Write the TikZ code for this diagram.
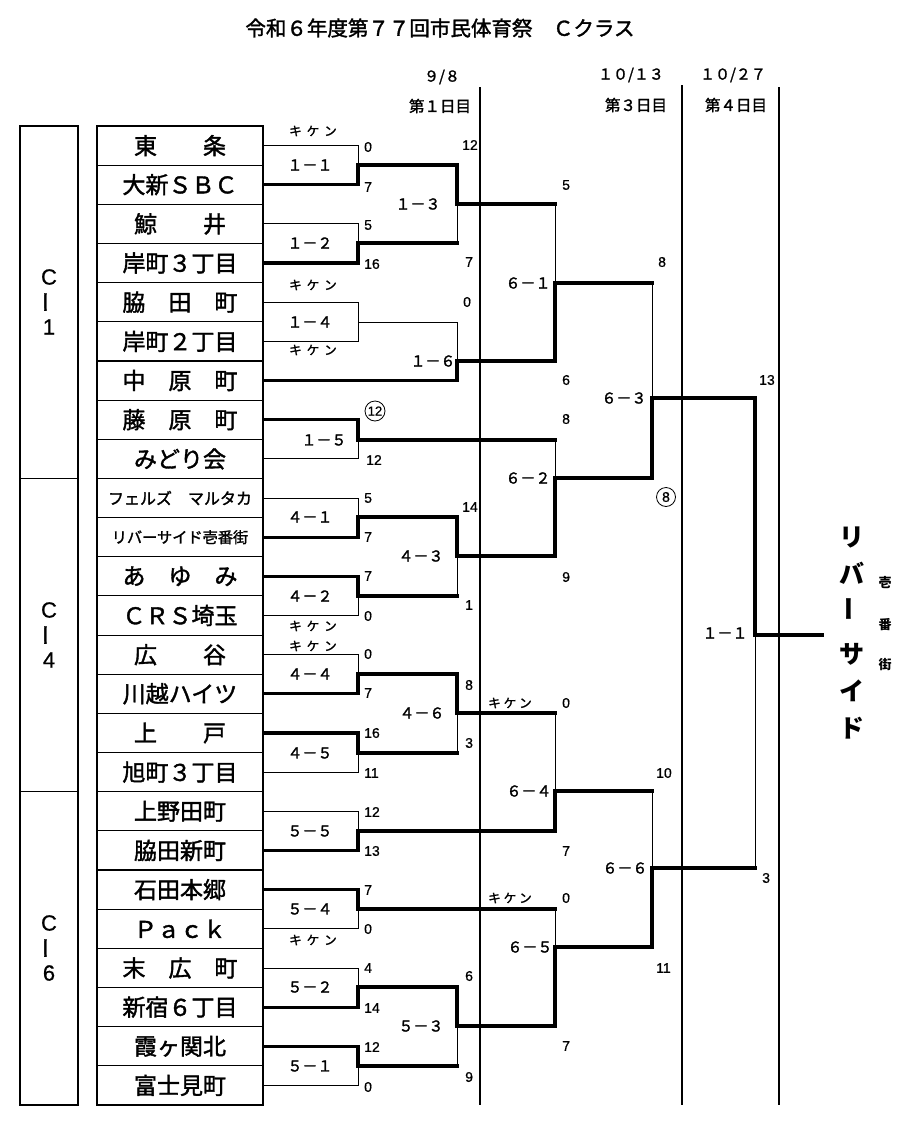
\documentclass[tikz,border=0pt]{standalone}
\usepackage{fontspec}
\setmainfont{Noto Sans CJK JP}
\newfontfamily\med{Noto Sans CJK JP}[FakeBold=1.6]
\newfontfamily\arial{Liberation Sans}[FakeBold=0.8]
\begin{document}
\begin{tikzpicture}[x=1pt,y=-1pt,
  thinl/.style={line width=0.9pt},
  thickl/.style={line width=3.2pt,line cap=rect},
  dayl/.style={line width=1.6pt},
  boxl/.style={line width=1.1pt},
  team/.style={draw,boxl,minimum width=166pt,minimum height=39.16pt,inner sep=0pt,font=\med\fontsize{23}{23}\selectfont},
  mlab/.style={font=\med\fontsize{15}{15}\selectfont,inner sep=0pt},
  sc/.style={font=\arial\fontsize{14}{14}\selectfont,inner sep=0pt,anchor=west},
  kk/.style={font=\med\fontsize{12.5}{12.5}\selectfont,inner sep=0pt},
  clab/.style={font=\arial\fontsize{22}{22}\selectfont,inner sep=0pt},
  hdr/.style={font=\med\fontsize{15}{15}\selectfont,inner sep=0pt},
  hdrd/.style={font=\med\fontsize{15.5}{15.5}\selectfont,inner sep=0pt},
  win/.style={font=\bfseries\fontsize{25}{25}\selectfont,inner sep=0pt},
  wins/.style={font=\bfseries\fontsize{13}{13}\selectfont,inner sep=0pt},
  ring/.style={draw,circle,line width=0.8pt,minimum size=20pt,inner sep=0pt}
]
\fill[white] (0,0) rectangle (900,1122);
\useasboundingbox (0,0) rectangle (900,1122);

% title and headers
\node[font=\med\fontsize{20.5}{20.5}\selectfont,inner sep=0pt] (title) at (440,28) {令和６年度第７７回市民体育祭　Ｃクラス};
\node[hdr] (d1) at (442,77) {９/８};
\node[hdrd] (d1b) at (440,106) {第１日目};
\node[hdr] (d3) at (631,75) {１０/１３};
\node[hdrd] (d3b) at (636,105) {第３日目};
\node[hdr] (d4) at (733,75) {１０/２７};
\node[hdrd] (d4b) at (736,105) {第４日目};

% day lines
\draw[dayl] (480,87) -- (480,1105);
\draw[dayl] (682,85) -- (682,1105);
\draw[dayl] (779,87) -- (779,1105);

% class blocks
\draw[boxl] (20,126) rectangle (78,478.4);
\draw[boxl] (20,478.4) rectangle (78,791.7);
\draw[boxl] (20,791.7) rectangle (78,1105);
\node[clab] (c1a) at (49,277) {C};
\node[clab,rotate=90,font=\med\fontsize{22}{22}\selectfont] (c1b) at (49,302) {ー};
\node[clab] (c1c) at (49,327) {1};
\node[clab] (c4a) at (49,610) {C};
\node[clab,rotate=90,font=\med\fontsize{22}{22}\selectfont] (c4b) at (49,635) {ー};
\node[clab] (c4c) at (49,660) {4};
\node[clab] (c6a) at (49,923) {C};
\node[clab,rotate=90,font=\med\fontsize{22}{22}\selectfont] (c6b) at (49,948) {ー};
\node[clab] (c6c) at (49,973) {6};

% teams
\node[team] (t0) at (180,145.6) {東　　条};
\node[team] (t1) at (180,184.7) {大新ＳＢＣ};
\node[team] (t2) at (180,223.9) {鯨　　井};
\node[team] (t3) at (180,263.0) {岸町３丁目};
\node[team] (t4) at (180,302.2) {脇　田　町};
\node[team] (t5) at (180,341.4) {岸町２丁目};
\node[team] (t6) at (180,380.5) {中　原　町};
\node[team] (t7) at (180,419.7) {藤　原　町};
\node[team] (t8) at (180,458.9) {みどり会};
\node[team,font=\med\fontsize{16}{16}\selectfont] (t9) at (180,498.0) {フェルズ　マルタカ};
\node[team,font=\med\fontsize{15.2}{15.2}\selectfont] (t10) at (180,537.2) {リバーサイド壱番街};
\node[team] (t11) at (180,576.3) {あ　ゆ　み};
\node[team] (t12) at (180,615.5) {ＣＲＳ埼玉};
\node[team] (t13) at (180,654.7) {広　　谷};
\node[team] (t14) at (180,693.8) {川越ハイツ};
\node[team] (t15) at (180,733.0) {上　　戸};
\node[team] (t16) at (180,772.2) {旭町３丁目};
\node[team] (t17) at (180,811.3) {上野田町};
\node[team] (t18) at (180,850.5) {脇田新町};
\node[team] (t19) at (180,889.6) {石田本郷};
\node[team] (t20) at (180,928.8) {Ｐａｃｋ};
\node[team] (t21) at (180,968.0) {末　広　町};
\node[team] (t22) at (180,1007.1) {新宿６丁目};
\node[team] (t23) at (180,1046.3) {霞ヶ関北};
\node[team] (t24) at (180,1085.4) {富士見町};

% junctions
\coordinate (m11) at (358,165);
\coordinate (m12) at (358,243);
\coordinate (m14) at (358,322);
\coordinate (m15) at (358,440);
\coordinate (m41) at (358,517);
\coordinate (m42) at (358,596);
\coordinate (m44) at (358,674);
\coordinate (m45) at (358,753);
\coordinate (m55) at (358,831);
\coordinate (m54) at (358,909);
\coordinate (m52) at (358,987);
\coordinate (m51) at (358,1066);
\coordinate (m13) at (457,204);
\coordinate (m16) at (457,361);
\coordinate (m43) at (457,556);
\coordinate (m46) at (457,713);
\coordinate (m53) at (457,1026);
\coordinate (m61) at (555,283);
\coordinate (m62) at (555,478);
\coordinate (m64) at (555,791);
\coordinate (m65) at (555,947);
\coordinate (m63) at (652,398);
\coordinate (m66) at (652,868);
\coordinate (mf) at (755,635);
\coordinate (fend) at (822,635);

% round 1 (block C-1)
\draw[thinl] (t0.east) -| (m11);
\draw[thickl] (t1.east) -| (m11) -- (m11 -| m13);
\draw[thinl] (t2.east) -| (m12);
\draw[thickl] (t3.east) -| (m12) -- (m12 -| m13);
\draw[thinl] (t4.east) -| (m14);
\draw[thinl] (t5.east) -| (m14) -- (m14 -| m16);
\draw[thickl] (t6.east) -| (m16) -- (m16 -| m61);
\draw[thinl] (m14 -| m16) -- (m16);
\draw[thickl] (t7.east) -| (m15) -- (m15 -| m62);
\draw[thinl] (t8.east) -| (m15);
\draw[thickl] (m11 -| m13) -- (m13) -- (m13 -| m61);
\draw[thinl] (m12 -| m13) -- (m13);
% block C-4
\draw[thinl] (t9.east) -| (m41);
\draw[thickl] (t10.east) -| (m41) -- (m41 -| m43);
\draw[thickl] (t11.east) -| (m42) -- (m42 -| m43);
\draw[thinl] (t12.east) -| (m42);
\draw[thickl] (m41 -| m43) -- (m43) -- (m43 -| m62);
\draw[thinl] (m42 -| m43) -- (m43);
\draw[thinl] (t13.east) -| (m44);
\draw[thickl] (t14.east) -| (m44) -- (m44 -| m46);
\draw[thickl] (t15.east) -| (m45) -- (m45 -| m46);
\draw[thinl] (t16.east) -| (m45);
\draw[thickl] (m44 -| m46) -- (m46) -- (m46 -| m64);
\draw[thinl] (m45 -| m46) -- (m46);
% block C-6
\draw[thinl] (t17.east) -| (m55);
\draw[thickl] (t18.east) -| (m55) -- (m55 -| m64);
\draw[thickl] (t19.east) -| (m54) -- (m54 -| m65);
\draw[thinl] (t20.east) -| (m54);
\draw[thinl] (t21.east) -| (m52);
\draw[thickl] (t22.east) -| (m52) -- (m52 -| m53);
\draw[thickl] (t23.east) -| (m51) -- (m51 -| m53);
\draw[thinl] (t24.east) -| (m51);
\draw[thickl] (m52 -| m53) -- (m53) -- (m53 -| m65);
\draw[thinl] (m51 -| m53) -- (m53);
% third day
\draw[thickl] (m16 -| m61) -- (m61) -- (m61 -| m63);
\draw[thinl] (m13 -| m61) -- (m61);
\draw[thickl] (m43 -| m62) -- (m62) -- (m62 -| m63);
\draw[thinl] (m15 -| m62) -- (m62);
\draw[thickl] (m55 -| m64) -- (m64) -- (m64 -| m66);
\draw[thinl] (m46 -| m64) -- (m64);
\draw[thickl] (m53 -| m65) -- (m65) -- (m65 -| m66);
\draw[thinl] (m54 -| m65) -- (m65);
\draw[thickl] (m62 -| m63) -- (m63) -- (m63 -| mf);
\draw[thinl] (m61 -| m63) -- (m63);
\draw[thickl] (m65 -| m66) -- (m66) -- (m66 -| mf);
\draw[thinl] (m64 -| m66) -- (m66);
% final
\draw[thickl] (m63 -| mf) -- (mf) -- (fend);
\draw[thinl] (m66 -| mf) -- (mf);

% match labels
\node[mlab] (l11) at (310,165) {１－１};
\node[mlab] (l12) at (310,243) {１－２};
\node[mlab] (l14) at (310,322) {１－４};
\node[mlab] (l15) at (324,440) {１－５};
\node[mlab] (l41) at (310,517) {４－１};
\node[mlab] (l42) at (310,596) {４－２};
\node[mlab] (l44) at (310,674) {４－４};
\node[mlab] (l45) at (310,753) {４－５};
\node[mlab] (l55) at (310,831) {５－５};
\node[mlab] (l54) at (310,909) {５－４};
\node[mlab] (l52) at (310,987) {５－２};
\node[mlab] (l51) at (310,1066) {５－１};
\node[mlab] (l13) at (418,204) {１－３};
\node[mlab] (l16) at (433,361) {１－６};
\node[mlab] (l43) at (421,556) {４－３};
\node[mlab] (l46) at (422,713) {４－６};
\node[mlab] (l53) at (421,1026) {５－３};
\node[mlab] (l61) at (528,283) {６－１};
\node[mlab] (l62) at (528,478) {６－２};
\node[mlab] (l64) at (529,791) {６－４};
\node[mlab] (l65) at (530,947) {６－５};
\node[mlab] (l63) at (624,398) {６－３};
\node[mlab] (l66) at (625,868) {６－６};
\node[mlab] (lf) at (725,633) {１－１};

% kiken labels
\node[kk] (k1) at (313,131) {キ\hspace{5pt}ケ\hspace{5pt}ン};
\node[kk] (k2) at (313,285) {キ\hspace{5pt}ケ\hspace{5pt}ン};
\node[kk] (k3) at (313,350) {キ\hspace{5pt}ケ\hspace{5pt}ン};
\node[kk] (k4) at (313,626) {キ\hspace{5pt}ケ\hspace{5pt}ン};
\node[kk] (k5) at (313,646) {キ\hspace{5pt}ケ\hspace{5pt}ン};
\node[kk] (k6) at (313,940) {キ\hspace{5pt}ケ\hspace{5pt}ン};
\node[kk] (k7) at (510,703) {キ\hspace{3pt}ケ\hspace{3pt}ン};
\node[kk] (k8) at (510,898) {キ\hspace{3pt}ケ\hspace{3pt}ン};

% scores, round 1
\node[sc] (s1) at (364,147) {0};
\node[sc] (s2) at (364,187) {7};
\node[sc] (s3) at (364,225) {5};
\node[sc] (s4) at (364,264) {16};
\node[ring,font=\arial\fontsize{13}{13}\selectfont] (s5) at (375,411) {12};
\node[sc] (s6) at (366,460) {12};
\node[sc] (s7) at (364,498) {5};
\node[sc] (s8) at (364,537) {7};
\node[sc] (s9) at (364,576) {7};
\node[sc] (s10) at (364,616) {0};
\node[sc] (s11) at (364,654) {0};
\node[sc] (s12) at (364,693) {7};
\node[sc] (s13) at (364,733) {16};
\node[sc] (s14) at (364,773) {11};
\node[sc] (s15) at (364,812) {12};
\node[sc] (s16) at (364,851) {13};
\node[sc] (s17) at (364,890) {7};
\node[sc] (s18) at (364,929) {0};
\node[sc] (s19) at (364,968) {4};
\node[sc] (s20) at (364,1008) {14};
\node[sc] (s21) at (364,1047) {12};
\node[sc] (s22) at (364,1087) {0};
% scores, round 2
\node[sc] (s23) at (462,145) {12};
\node[sc] (s24) at (465,262) {7};
\node[sc] (s25) at (463,302) {0};
\node[sc] (s26) at (462,507) {14};
\node[sc] (s27) at (465,605) {1};
\node[sc] (s28) at (465,685) {8};
\node[sc] (s29) at (465,743) {3};
\node[sc] (s30) at (465,976) {6};
\node[sc] (s31) at (465,1077) {9};
% scores, round 3
\node[sc] (s32) at (562,185) {5};
\node[sc] (s33) at (562,380) {6};
\node[sc] (s34) at (562,419) {8};
\node[sc] (s35) at (562,577) {9};
\node[sc] (s36) at (562,703) {0};
\node[sc] (s37) at (562,851) {7};
\node[sc] (s38) at (562,898) {0};
\node[sc] (s39) at (562,1046) {7};
% scores, round 4
\node[sc] (s40) at (658,262) {8};
\node[ring,minimum size=19pt,font=\arial\fontsize{14}{14}\selectfont] (s41) at (666,497) {8};
\node[sc] (s42) at (656,773) {10};
\node[sc] (s43) at (656,968) {11};
% scores, final
\node[sc] (s44) at (759,380) {13};
\node[sc] (s45) at (762,878) {3};

% champion
\node[win] (w1) at (852,537) {リ};
\node[win] (w2) at (852,573) {バ};
\node[win,rotate=90] (w3) at (852,609) {ー};
\node[win] (w4) at (852,654) {サ};
\node[win] (w5) at (852,691) {イ};
\node[win] (w6) at (852,728) {ド};
\node[wins] (w7) at (885,583) {壱};
\node[wins] (w8) at (885,625) {番};
\node[wins] (w9) at (885,665) {街};
\end{tikzpicture}
\end{document}
